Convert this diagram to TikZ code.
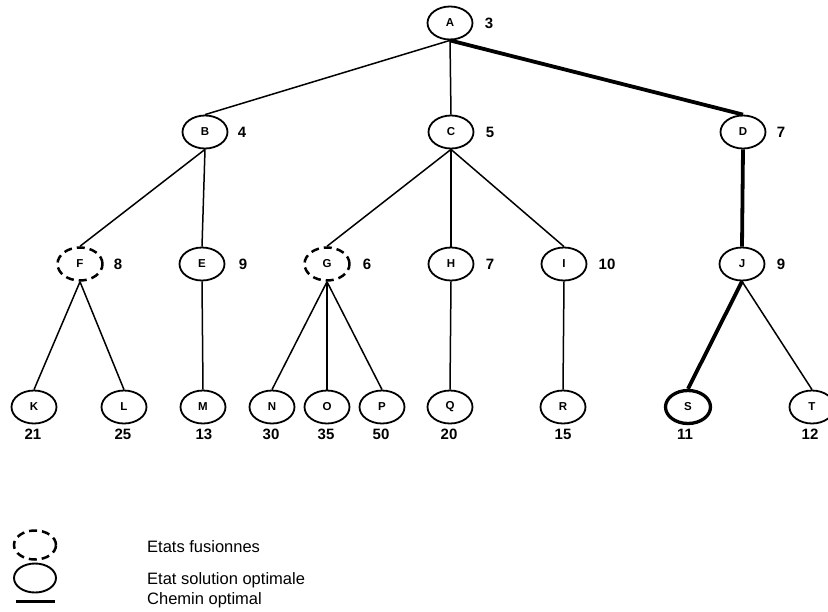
\documentclass[tikz,border=0pt]{standalone}
\usepackage{fontspec}
\setmainfont{Liberation Sans}
\usetikzlibrary{shapes.geometric}
\begin{document}
\begin{tikzpicture}[x=1pt,y=-1pt,
  st/.style={draw, ellipse, minimum width=45pt, minimum height=33pt, inner sep=0pt, line width=1.8pt, font=\fontsize{11.5}{11.5}\selectfont\bfseries},
  merged/.style={st, dash pattern=on 8pt off 5pt, line width=2.5pt},
  sol/.style={st, line width=3.3pt},
  legst/.style={draw, ellipse, minimum width=42pt, minimum height=29pt, inner sep=0pt, line width=1.9pt},
  legmerged/.style={legst, dash pattern=on 8pt off 5pt, line width=2.5pt},
  edge/.style={line width=1.5pt},
  best/.style={line width=3.8pt},
  val/.style={font=\fontsize{15}{15}\selectfont\bfseries, inner sep=0pt},
  leg/.style={font=\fontsize{16.5}{16.5}\selectfont, anchor=west, inner sep=0pt}]
\useasboundingbox (0,0) rectangle (828,611);
% level 1
\node[st] (A) at (450,23) {A};
% level 2
\node[st] (B) at (205,132) {B};
\node[st] (C) at (451,132) {C};
\node[st] (D) at (743,132) {D};
% level 3
\node[merged] (F) at (80,264) {F};
\node[st] (E) at (202,264) {E};
\node[merged] (G) at (327,264) {G};
\node[st] (H) at (451,264) {H};
\node[st] (I) at (564,264) {I};
\node[st] (J) at (742,264) {J};
% level 4
\node[st] (K) at (34,407) {K};
\node[st] (L) at (124,407) {L};
\node[st] (M) at (203,407) {M};
\node[st] (N) at (272,407) {N};
\node[st] (O) at (327,407) {O};
\node[st] (P) at (382,407) {P};
\node[st] (Q) at (450,407) {Q};
\node[sol] (S) at (688,407) {S};
\node[st] (R) at (563,407) {R};
\node[st] (T) at (812,407) {T};
% values
\node[val] (vA) at (489,23) {3};
\node[val] (vB) at (242,132) {4};
\node[val] (vC) at (490,132) {5};
\node[val] (vD) at (781,132) {7};
\node[val] (vF) at (118,264) {8};
\node[val] (vE) at (243,264) {9};
\node[val] (vG) at (367,264) {6};
\node[val] (vH) at (490,264) {7};
\node[val] (vI) at (607,264) {10};
\node[val] (vJ) at (781,264) {9};
\node[val] (vK) at (33,434) {21};
\node[val] (vL) at (123,434) {25};
\node[val] (vM) at (204,434) {13};
\node[val] (vN) at (271,434) {30};
\node[val] (vO) at (326,434) {35};
\node[val] (vP) at (381,434) {50};
\node[val] (vQ) at (449,434) {20};
\node[val] (vR) at (563,434) {15};
\node[val] (vS) at (685,434) {11};
\node[val] (vT) at (810,434) {12};
% edges
\draw[edge] (A.south) -- (B.north);
\draw[edge] (A.south) -- (C.north);
\draw[best] (A.south) -- (D.north);
\draw[edge] (B.south) -- (F.north);
\draw[edge] (B.south) -- (E.north);
\draw[edge] (C.south) -- (G.north);
\draw[edge] (C.south) -- (H.north);
\draw[edge] (C.south) -- (I.north);
\draw[best] (D.south) -- (J.north);
\draw[edge] (F.south) -- (K.north);
\draw[edge] (F.south) -- (L.north);
\draw[edge] (E.south) -- (M.north);
\draw[edge] (G.south) -- (N.north);
\draw[edge] (G.south) -- (O.north);
\draw[edge] (G.south) -- (P.north);
\draw[edge] (H.south) -- (Q.north);
\draw[edge] (I.south) -- (R.north);
\draw[best] (J.south) -- (S.north);
\draw[edge] (J.south) -- (T.north);
% legend
\node[legmerged] (l1) at (35,545) {};
\node[leg] (t1) at (147,547) {Etats fusionnes};
\node[legst] (l2) at (35,578) {};
\node[leg] (t2) at (147,580) {Etat solution optimale};
\coordinate (l3a) at (16,601);
\coordinate (l3b) at (55,601);
\draw[line width=3pt] (l3a) -- (l3b);
\node[leg] (t3) at (147,600) {Chemin optimal};
\end{tikzpicture}
\end{document}
